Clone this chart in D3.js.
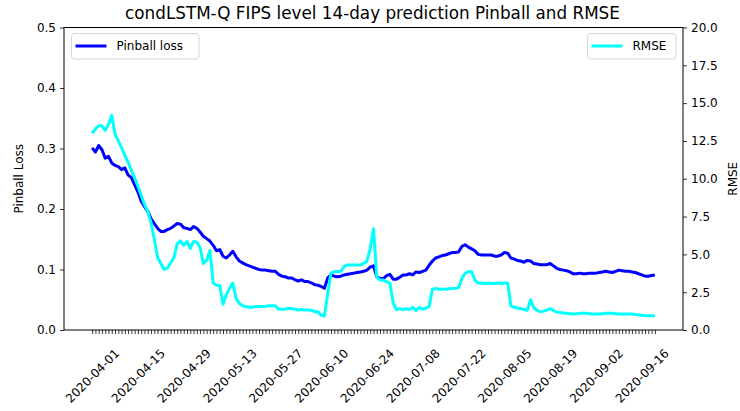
<!DOCTYPE html>
<html><head><meta charset="utf-8">
<script src="https://cdn.jsdelivr.net/npm/d3@7"></script>
<style>body{margin:0;background:#fff} text{font-family:"DejaVu Sans",sans-serif;fill:#000}</style>
</head><body><svg id="c" width="740" height="411"></svg>
<script>
const startDate = "2020-04-01";
const pinball = [
0.301,0.294,0.305,0.298,0.284,0.287,0.276,0.272,0.270,0.265,
0.268,0.256,0.252,0.240,0.228,0.213,0.204,0.196,0.184,0.176,
0.168,0.163,0.163,0.166,0.168,0.172,0.176,0.175,0.169,0.168,
0.166,0.171,0.168,0.162,0.155,0.151,0.147,0.140,0.131,0.133,
0.122,0.119,0.124,0.130,0.121,0.114,0.111,0.108,0.106,0.104,
0.102,0.100,0.099,0.099,0.098,0.097,0.097,0.092,0.089,0.088,
0.086,0.086,0.083,0.081,0.083,0.080,0.080,0.078,0.075,0.074,
0.072,0.069,0.086,0.091,0.089,0.088,0.089,0.091,0.092,0.093,
0.094,0.095,0.096,0.097,0.099,0.104,0.106,0.088,0.085,0.085,
0.090,0.092,0.084,0.084,0.087,0.091,0.091,0.093,0.091,0.096,
0.095,0.097,0.099,0.107,0.114,0.119,0.121,0.123,0.124,0.126,
0.128,0.128,0.129,0.138,0.141,0.137,0.134,0.131,0.125,0.124,
0.124,0.124,0.124,0.122,0.122,0.124,0.128,0.127,0.119,0.117,
0.115,0.114,0.112,0.115,0.114,0.110,0.109,0.108,0.108,0.108,
0.110,0.106,0.102,0.100,0.099,0.098,0.096,0.093,0.093,0.094,
0.093,0.093,0.094,0.094,0.094,0.095,0.096,0.097,0.096,0.095,
0.097,0.099,0.098,0.097,0.097,0.096,0.095,0.093,0.091,0.089,
0.089,0.090,0.091];
const rmse = [
13.0,13.3,13.5,13.5,13.2,13.6,14.2,12.95,12.5,12.05,
11.55,11.1,10.55,10.05,9.5,8.9,8.3,7.85,7.1,6.0,
4.8,4.4,4.0,4.1,4.45,4.8,5.7,5.9,5.6,5.85,
5.4,5.85,5.8,5.45,4.4,4.6,5.25,3.1,2.95,2.95,
1.7,2.3,2.75,3.1,2.1,1.75,1.6,1.55,1.5,1.5,
1.55,1.55,1.55,1.57,1.6,1.6,1.6,1.38,1.37,1.38,
1.44,1.4,1.38,1.32,1.36,1.32,1.32,1.3,1.22,1.2,
0.98,0.93,2.4,3.75,3.86,3.86,3.86,4.2,4.3,4.3,
4.3,4.3,4.3,4.4,4.55,5.4,6.7,3.5,3.3,3.3,
3.2,3.1,1.8,1.35,1.4,1.35,1.4,1.35,1.5,1.28,
1.5,1.37,1.45,1.55,2.7,2.75,2.7,2.7,2.7,2.73,
2.75,2.76,2.8,3.4,3.75,3.86,3.85,3.3,3.1,3.1,
3.08,3.1,3.08,3.08,3.1,3.08,3.1,3.1,1.6,1.5,
1.45,1.42,1.35,1.3,2.0,1.45,1.3,1.2,1.25,1.32,
1.42,1.28,1.2,1.15,1.12,1.1,1.08,1.06,1.07,1.1,
1.1,1.1,1.08,1.06,1.06,1.06,1.08,1.1,1.1,1.1,
1.08,1.06,1.06,1.06,1.06,1.05,1.03,1.0,0.97,0.95,
0.95,0.95,0.95];
const tickLabels = ["2020-04-01","2020-04-15","2020-04-29","2020-05-13","2020-05-27","2020-06-10",
"2020-06-24","2020-07-08","2020-07-22","2020-08-05","2020-08-19","2020-09-02","2020-09-16"];
const leftTicks = [0.0,0.1,0.2,0.3,0.4,0.5];
const rightTicks = [0.0,2.5,5.0,7.5,10.0,12.5,15.0,17.5,20.0];
const titleText = "condLSTM-Q FIPS level 14-day prediction Pinball and RMSE";

const parse = d3.utcParse("%Y-%m-%d"), fmt = d3.utcFormat("%Y-%m-%d");
const d0 = parse(startDate);
const dates = pinball.map((_, i) => d3.utcDay.offset(d0, i));
const n = dates.length;
const L = 64, R = 683, T = 27.5, B = 330;
const marg = (n - 1) * 0.05;
const x = d3.scaleLinear().domain([-marg, n - 1 + marg]).range([L, R]);
const yL = d3.scaleLinear().domain([0, 0.5]).range([B, T]);
const yR = d3.scaleLinear().domain([0, 20]).range([B, T]);
const svg = d3.select("#c");

// lines
const lineL = d3.line().x((d, i) => x(i)).y(d => yL(d));
const lineR = d3.line().x((d, i) => x(i)).y(d => yR(d));
svg.append("path").attr("d", lineL(pinball)).attr("fill", "none")
  .attr("stroke", "#0000ff").attr("stroke-width", 3).attr("stroke-linejoin", "round").attr("stroke-linecap", "butt");
svg.append("path").attr("d", lineR(rmse)).attr("fill", "none")
  .attr("stroke", "#00ffff").attr("stroke-width", 3).attr("stroke-linejoin", "round").attr("stroke-linecap", "butt");

// frame
svg.append("rect").attr("x", L).attr("y", T).attr("width", R - L).attr("height", B - T)
  .attr("fill", "none").attr("stroke", "#000").attr("stroke-width", 1);

// x axis
const labelSet = new Set(tickLabels);
const xa = svg.append("g").attr("transform", `translate(0,${B})`)
  .call(d3.axisBottom(x).tickValues(d3.range(n)).tickSize(4).tickSizeOuter(0)
    .tickFormat(i => labelSet.has(fmt(dates[i])) ? fmt(dates[i]) : ""));
xa.select(".domain").remove();
xa.selectAll("line").attr("stroke", "#000").attr("stroke-width", 0.8);
xa.selectAll("text").attr("font-size", 12).attr("y", null).attr("dy", null)
  .attr("text-anchor", "middle").attr("dominant-baseline", "central")
  .attr("transform", "translate(0,46) rotate(-45)");

// left axis
const la = svg.append("g").attr("transform", `translate(${L},0)`)
  .call(d3.axisLeft(yL).tickValues(leftTicks).tickSize(4).tickPadding(4).tickFormat(d3.format(".1f")));
la.select(".domain").remove();
la.selectAll("line").attr("stroke", "#000").attr("stroke-width", 0.8);
la.selectAll("text").attr("font-size", 12);

// right axis
const ra = svg.append("g").attr("transform", `translate(${R},0)`)
  .call(d3.axisRight(yR).tickValues(rightTicks).tickSize(4).tickPadding(4).tickFormat(d3.format(".1f")));
ra.select(".domain").remove();
ra.selectAll("line").attr("stroke", "#000").attr("stroke-width", 0.8);
ra.selectAll("text").attr("font-size", 12);

// axis titles
svg.append("text").attr("transform", `translate(19,${(T + B) / 2}) rotate(-90)`)
  .attr("text-anchor", "middle").attr("dominant-baseline", "central").attr("font-size", 12).text("Pinball Loss");
svg.append("text").attr("transform", `translate(733,${(T + B) / 2}) rotate(-90)`)
  .attr("text-anchor", "middle").attr("dominant-baseline", "central").attr("font-size", 12).text("RMSE");

// title
svg.append("text").attr("x", (L + R) / 2 - 1).attr("y", 19).attr("text-anchor", "middle")
  .attr("font-size", 16.8).text(titleText);

// legends
function legend(x0, y0, w, label, color) {
  const g = svg.append("g");
  g.append("rect").attr("x", x0).attr("y", y0).attr("width", w).attr("height", 25.5).attr("rx", 3)
    .attr("fill", "#fff").attr("fill-opacity", 0.8).attr("stroke", "#d6d6d6").attr("stroke-width", 1);
  g.append("line").attr("x1", x0 + 4).attr("x2", x0 + 35).attr("y1", y0 + 12.5).attr("y2", y0 + 12.5)
    .attr("stroke", color).attr("stroke-width", 3);
  g.append("text").attr("x", x0 + 45).attr("y", y0 + 12.5).attr("dominant-baseline", "central")
    .attr("font-size", 12).text(label);
}
legend(71.5, 33.5, 127.5, "Pinball loss", "#0000ff");
legend(587.5, 33.5, 88.5, "RMSE", "#00ffff");
</script></body></html>
